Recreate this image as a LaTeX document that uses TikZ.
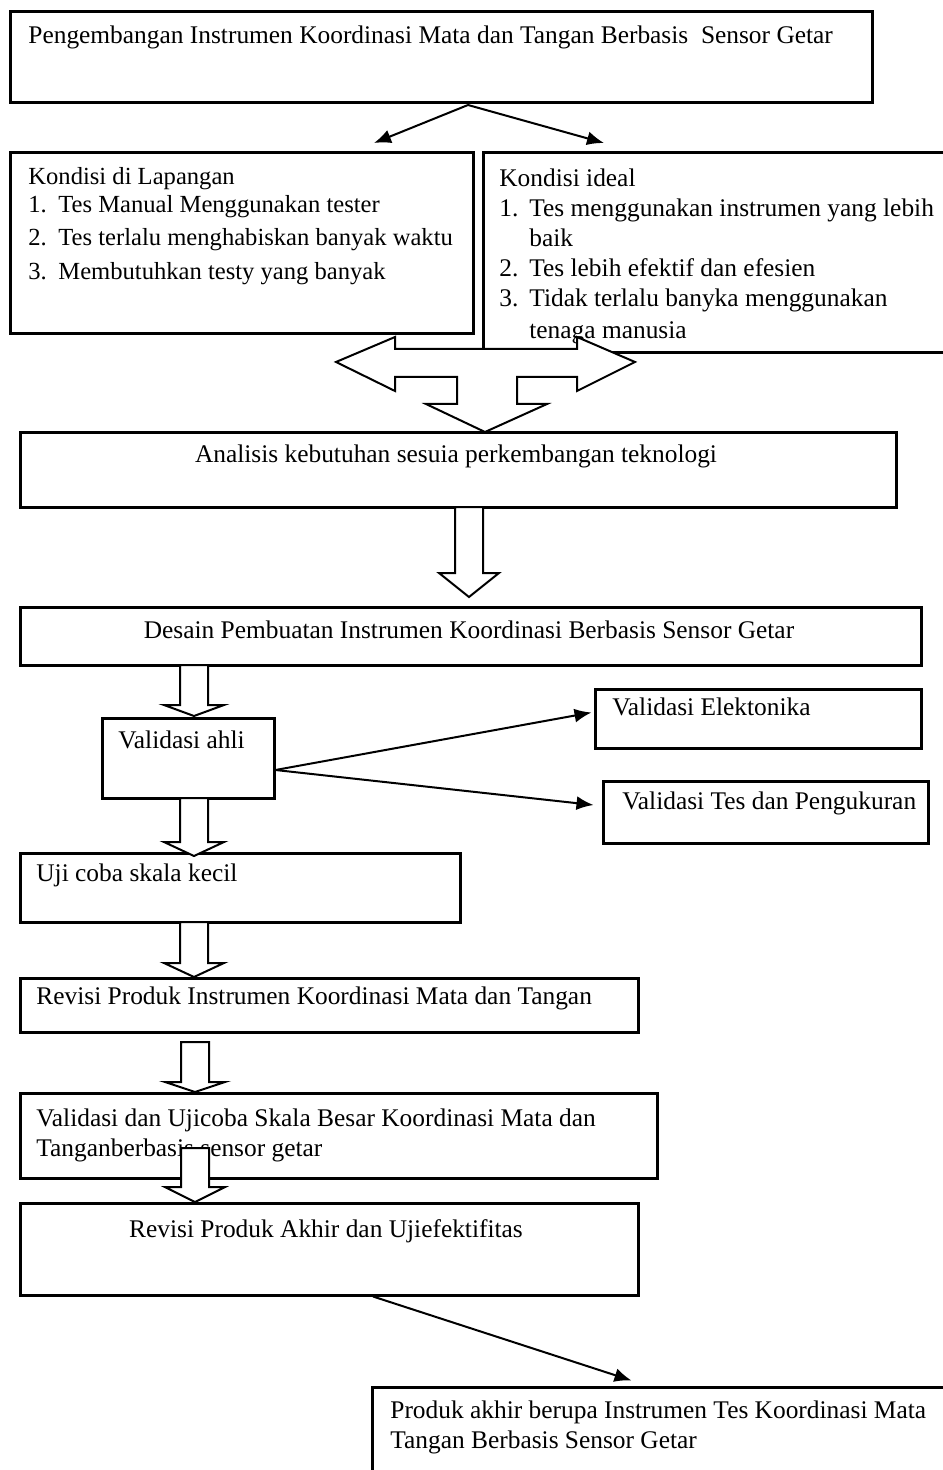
\documentclass[tikz,border=0pt]{standalone}
\usepackage{fontspec}
\setmainfont{Liberation Serif}
\usetikzlibrary{arrows.meta,fit,calc}

% hollow block arrow pointing down: x, top, start of head, tip
\newcommand{\panahbawah}[4]{%
  \draw[blok] (#1-14,#2) -- (#1+14,#2) -- (#1+14,#3) -- (#1+30,#3)
    -- (#1,#4) -- (#1-30,#3) -- (#1-14,#3) -- cycle;}
\newcommand{\nomor}[1]{\makebox[15pt][l]{#1}}

\begin{document}
\begin{tikzpicture}[>={Latex[length=8.5pt,width=7pt]}, x=0.5pt, y=-0.5pt,
    every node/.style={font=\fontsize{12.7}{15}\selectfont},
    kotak/.style={draw, line width=1.5pt, inner sep=0pt},
    tulisan/.style={inner sep=0pt, anchor=west},
    blok/.style={draw, fill=white, line width=1pt, line join=miter},
    garis/.style={->, line width=1pt}]
    \useasboundingbox (0,0) rectangle (942,1470);

    % kotak-kotak
    \node[kotak, fit={(10,12) (872,103)}] (judul) {};
    \node[kotak, fit={(10,153) (473,334)}] (lapangan) {};
    \node[kotak, fit={(483,153) (960,353)}] (ideal) {};
    \node[kotak, fit={(20,433) (896,507)}] (analisis) {};
    \node[kotak, fit={(20,607) (921,665)}] (desain) {};
    \node[kotak, fit={(102,718) (274,798)}] (ahli) {};
    \node[kotak, fit={(595,689) (921,748)}] (elektronika) {};
    \node[kotak, fit={(603,781) (928,843)}] (tes) {};
    \node[kotak, fit={(20,853) (460,922)}] (ujikecil) {};
    \node[kotak, fit={(20,978) (638,1032)}] (revisi) {};
    \node[kotak, fit={(20,1093) (657,1178)}] (ujibesar) {};
    \node[kotak, fit={(20,1203) (638,1295)}] (akhir) {};
    \node[kotak, fit={(372,1387) (960,1500)}] (produk) {};

    % tulisan
    \node[tulisan] (tjudul) at (28,37) {Pengembangan Instrumen Koordinasi Mata dan Tangan Berbasis\ \ Sensor Getar};
    \node[tulisan, anchor=north west, align=left, font=\fontsize{12.3}{15}\selectfont] (tlapangan) at (28,167) {Kondisi di Lapangan\\[-1pt]
        \nomor{1.}Tes Manual Menggunakan tester\\[1.5pt]
        \nomor{2.}Tes terlalu menghabiskan banyak waktu\\[2pt]
        \nomor{3.}Membutuhkan testy yang banyak};
    \node[tulisan, anchor=north west, align=left] (tideal) at (499,168) {Kondisi ideal\\
        \nomor{1.}Tes menggunakan instrumen yang lebih\\
        \hspace*{15pt}baik\\
        \nomor{2.}Tes lebih efektif dan efesien\\
        \nomor{3.}Tidak terlalu banyka menggunakan\\[1pt]
        \hspace*{15pt}tenaga manusia};
    \node (tanalisis) at (456,456) {Analisis kebutuhan sesuia perkembangan teknologi};
    \node (tdesain) at (469,630) {Desain Pembuatan Instrumen Koordinasi Berbasis Sensor Getar};
    \node[tulisan] (tahli) at (118,740) {Validasi ahli};
    \node[tulisan] (telektronika) at (612,707) {Validasi Elektonika};
    \node[tulisan] (ttes) at (622,803) {Validasi Tes dan Pengukuran};
    \node[tulisan] (tujikecil) at (36,875) {Uji coba skala kecil};
    \node[tulisan] (trevisi) at (36,998) {Revisi Produk Instrumen Koordinasi Mata dan Tangan};
    \node[tulisan, anchor=north west, align=left] (tujibesar) at (36,1108) {Validasi dan Ujicoba Skala Besar Koordinasi Mata dan\\
        Tanganberbasis sensor getar};
    \node (takhir) at (326,1231) {Revisi Produk Akhir dan Ujiefektifitas};
    \node[tulisan, anchor=north west, align=left] (tproduk) at (390,1400) {Produk akhir berupa Instrumen Tes Koordinasi Mata\\
        Tangan Berbasis Sensor Getar};

    % panah atas
    \coordinate (pisah) at (468,105);
    \coordinate (kekiri) at (374,143);
    \coordinate (kekanan) at (604,143);
    \draw[garis] (pisah) -- (kekiri);
    \draw[garis] (pisah) -- (kekanan);

    % panah tiga arah
    \draw[blok] (395,337) -- (336,362) -- (395,391) -- (395,377) -- (457,377)
        -- (457,404) -- (426,404) -- (485,432) -- (547,404) -- (517,404)
        -- (517,377) -- (577,377) -- (577,391) -- (635,362) -- (577,337)
        -- (577,349) -- (395,349) -- cycle;

    % panah blok ke bawah
    \panahbawah{469}{507}{573}{597}
    \panahbawah{194}{665}{705}{716}
    \panahbawah{194}{798}{842}{856}
    \panahbawah{194}{922}{963}{977}
    \panahbawah{195}{1042}{1082}{1092}
    \panahbawah{195}{1148}{1187}{1202}

    % validasi
    \draw[garis] ($(ahli.east)+(0,12)$) -- ($(elektronika.west)+(-2,-6)$);
    \draw[garis] ($(ahli.east)+(0,12)$) -- ($(tes.west)+(-8,-7)$);

    % produk akhir
    \draw[garis] ($(akhir.south)+(44,0)$) -- ($(produk.north west)+(261,-5)$);
\end{tikzpicture}
\end{document}
